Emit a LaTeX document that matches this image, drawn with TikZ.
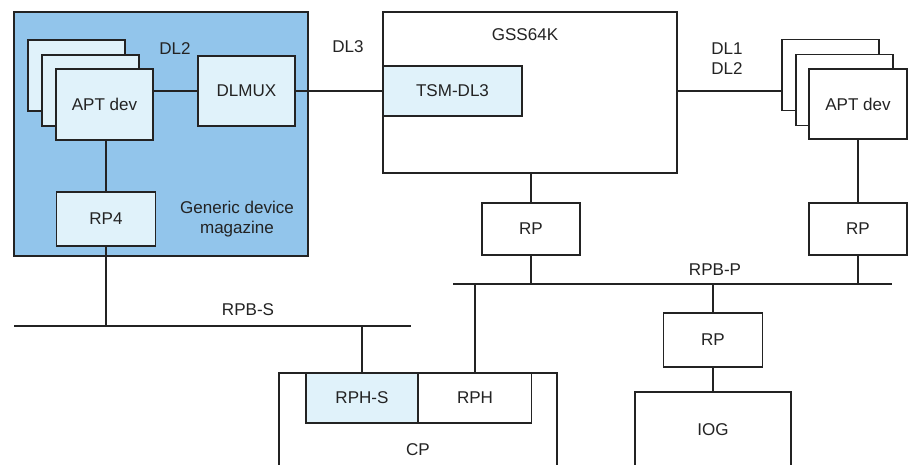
\documentclass[tikz,border=0pt]{standalone}
\usepackage{fontspec}
\setmainfont{Liberation Sans}
\definecolor{magblue}{RGB}{146,197,235}
\definecolor{paleblue}{RGB}{224,242,250}
\definecolor{ink}{RGB}{35,35,35}
\tikzset{
  box/.style={draw=ink, line width=0.8pt, fill=white, inner sep=0pt},
  pbox/.style={box, fill=paleblue},
  lbl/.style={text=ink, inner sep=0pt, align=center},
  wire/.style={draw=ink, line width=0.8pt}
}
\begin{document}
\begin{tikzpicture}[x=0.02cm, y=-0.02cm, font=\fontsize{9.7}{11.5}\selectfont, text=ink]
  \clip (0,0) rectangle (915,464);
  \fill[white] (0,0) rectangle (915,464);

  % Generic device magazine
  \node[box, fill=magblue, minimum width=5.88cm, minimum height=4.88cm] (mag) at (161,134) {};
  \node[pbox, minimum width=1.94cm, minimum height=1.42cm] (aptLa) at (76.5,75.5) {};
  \node[pbox, minimum width=1.94cm, minimum height=1.42cm] (aptLb) at (90.5,90.5) {};
  \node[pbox, minimum width=1.94cm, minimum height=1.42cm] (aptL) at (104.5,104.5) {APT dev};
  \node[pbox, minimum width=1.94cm, minimum height=1.40cm] (dlmux) at (246.5,91) {DLMUX};
  \node[pbox, minimum width=1.98cm, minimum height=1.08cm] (rp4) at (106,219) {RP4};
  \node[lbl] (magtxt) at (237,219) {Generic device\\magazine};

  % GSS64K
  \node[box, minimum width=5.88cm, minimum height=3.22cm] (gss) at (530,92.5) {};
  \node[lbl] (gsstxt) at (525,35) {GSS64K};
  \node[pbox, minimum width=2.78cm, minimum height=1.0cm] (tsm) at (452.5,91) {TSM-DL3};

  % right device stack
  \node[box, minimum width=1.94cm, minimum height=1.42cm] (aptRa) at (830.5,75) {};
  \node[box, minimum width=1.94cm, minimum height=1.42cm] (aptRb) at (844.5,90) {};
  \node[box, minimum width=1.96cm, minimum height=1.40cm] (aptR) at (858,104) {APT dev};
  \node[box, minimum width=1.96cm, minimum height=1.04cm] (rpR) at (858,229) {RP};
  \node[box, minimum width=1.96cm, minimum height=1.04cm] (rpC) at (531,229) {RP};
  \node[box, minimum width=1.98cm, minimum height=1.08cm] (rpB) at (713,340) {RP};
  \node[box, minimum width=3.12cm, minimum height=1.52cm] (iog) at (713,430) {IOG};

  % CP with its handlers
  \node[box, minimum width=5.56cm, minimum height=3.08cm] (cp) at (418,450) {CP};
  \node[pbox, minimum width=2.24cm, minimum height=1.0cm] (rphs) at (362,398) {RPH-S};
  \node[box, minimum width=2.26cm, minimum height=1.0cm] (rph) at (475,398) {RPH};

  % buses
  \coordinate (sbusL) at (14,326);
  \coordinate (sbusR) at (411,326);
  \coordinate (pbusL) at (453,284);
  \coordinate (pbusR) at (892,284);
  \draw[wire] (sbusL) -- (sbusR);
  \draw[wire] (pbusL) -- (pbusR);

  % links
  \draw[wire] (dlmux.west) -- (dlmux.west -| aptL.east);
  \draw[wire] (dlmux.east) -- (tsm.west);
  \draw[wire] (tsm.east -| gss.east) -- (tsm.east -| aptRa.west);
  \draw[wire] (rp4.north) -- (rp4.north |- aptL.south);
  \draw[wire] (rp4.south) -- (rp4.south |- sbusL);
  \draw[wire] (rphs.north) -- (rphs.north |- sbusL);
  \draw[wire] (rph.north) -- (rph.north |- pbusL);
  \draw[wire] (gss.south -| rpC) -- (rpC.north);
  \draw[wire] (rpC.south) -- (rpC.south |- pbusL);
  \draw[wire] (aptR.south) -- (rpR.north);
  \draw[wire] (rpR.south) -- (rpR.south |- pbusL);
  \draw[wire] (rpB.north) -- (rpB.north |- pbusL);
  \draw[wire] (rpB.south) -- (rpB.south |- iog.north);

  % labels
  \node[lbl] (dl2) at (175,49) {DL2};
  \node[lbl] (dl3) at (348,47) {DL3};
  \node[lbl] (dl12) at (727,59) {DL1\\DL2};
  \node[lbl] (rpbs) at (248,310) {RPB-S};
  \node[lbl] (rpbp) at (715,270) {RPB-P};
\end{tikzpicture}
\end{document}
